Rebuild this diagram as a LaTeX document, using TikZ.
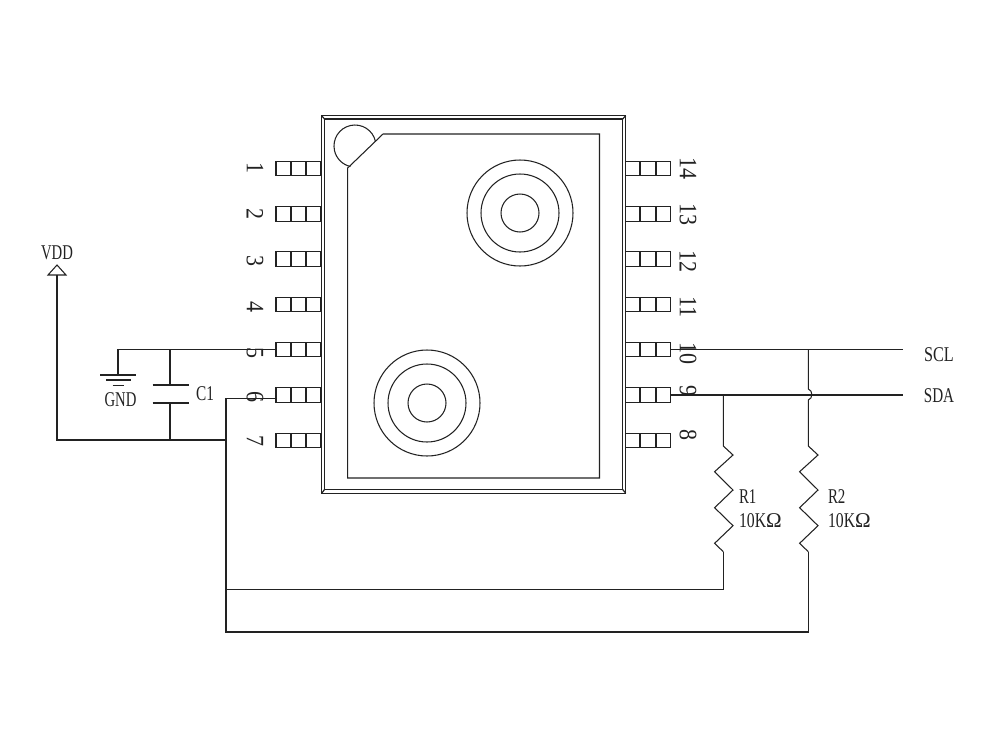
\documentclass[tikz,border=0pt]{standalone}
\usepackage{graphicx}
\usepackage{fontspec}
\setmainfont{Liberation Serif}
\newcommand{\cnd}[2]{\scalebox{#1}[1]{#2}}
\newcommand{\lblfont}{\fontsize{21}{21}\selectfont}
\newcommand{\numfont}{\fontsize{25}{25}\selectfont}
\definecolor{ink}{HTML}{222222}
\tikzset{
  wire/.style={draw=ink,line width=1.05pt,line join=miter},
  chipline/.style={draw=ink,line width=1.2pt},
  pinbox/.style={draw=ink,line width=1.05pt,rectangle,minimum width=45pt,minimum height=14.3pt,inner sep=0pt,outer sep=0pt},
  lbl/.style={inner sep=0pt,outer sep=0pt,text=ink,font=\lblfont},
  pinnum/.style={inner sep=0pt,outer sep=0pt,text=ink,font=\numfont,rotate=-90},
}
\begin{document}
\begin{tikzpicture}[x=1pt,y=-1pt]
\useasboundingbox[fill=white] (0,0) rectangle (1000,750);

% chip body
\draw[chipline] (321.7,115.7) rectangle (625.7,493.3);
\draw[chipline] (324.5,119) rectangle (622.7,489.5);
\draw[chipline] (321.7,115.7) -- (324.5,119) (625.7,115.7) -- (622.7,119)
                (321.7,493.3) -- (324.5,489.5) (625.7,493.3) -- (622.7,489.5);
\draw[wire] (383,134) -- (599.5,134) -- (599.5,478) -- (347.7,478) -- (347.7,168) -- cycle;
\draw[wire] (375.5,141.5) arc[start angle=-12.4,end angle=-257.6,radius=21];

% sensor ports
\foreach \r in {53,39,19} {
  \draw[wire] (520,213) circle[radius=\r];
  \draw[wire] (427,403) circle[radius=\r];
}

% pins
\foreach \n/\y in {1/168.6,2/214,3/259,4/304.4,5/349.7,6/395,7/440.2} {
  \node[pinbox] (p\n) at (298.5,\y) {};
  \draw[wire] (291,\y-7.15) -- (291,\y+7.15) (306,\y-7.15) -- (306,\y+7.15);
}
\foreach \n/\y in {14/168.6,13/214,12/259,11/304.4,10/349.7,9/395,8/440.2} {
  \node[pinbox] (p\n) at (648.2,\y) {};
  \draw[wire] (640,\y-7.15) -- (640,\y+7.15) (656,\y-7.15) -- (656,\y+7.15);
}

% pin numbers
\foreach \n/\y in {1/168,2/214,3/261,4/307,5/353,6/397,7/441} {
  \node[pinnum] (n\n) at (255,\y) {\cnd{.88}{\n}};
}
\foreach \n/\y in {14/168,13/214,12/261,11/307,10/353,9/391,8/435} {
  \node[pinnum] (n\n) at (688,\y) {\cnd{.88}{\n}};
}

% named junctions
\coordinate (gndtop) at (118,349.7);
\coordinate (capj) at (170,349.7);
\coordinate (capa) at (170,385);
\coordinate (capb) at (170,403);
\coordinate (capbot) at (170,440);
\coordinate (vddbase) at (57,275);
\coordinate (vddcorner) at (57,440);
\coordinate (sdaj) at (226,440);
\coordinate (p6w) at (276,398.3);
\coordinate (p6c) at (226,398.3);
\coordinate (r1c) at (226,589.5);
\coordinate (r2c) at (226,632);
\coordinate (sclend) at (903,349.7);
\coordinate (sdaend) at (903,395);
\coordinate (r1t) at (723.3,395);
\coordinate (r2t) at (808.3,349.7);

% left wiring
\draw[wire] (p5.west) -- (gndtop) -- (118,375);
\draw[wire] (100,375) -- (136,375) (106,380) -- (131,380) (112.7,385.3) -- (124,385.3);
\draw[wire] (capj) -- (capa);
\draw[wire] (152.5,385) -- (188.5,385) (152.5,403) -- (188.5,403);
\draw[wire] (capb) -- (capbot);
\draw[wire] (vddbase) -- (vddcorner) -- (sdaj);
\draw[wire] (57,265) -- (66,275) -- (48,275) -- cycle;
\draw[wire] (p6w) -- (p6c) -- (r2c) -- (808.3,632) -- (808.3,551.7);
\draw[wire] (r1c) -- (723.3,589.5) -- (723.3,551.7);

% right wiring
\draw[wire] (p10.east) -- (sclend);
\draw[wire] (p9.east) -- (sdaend);
\draw[wire] (r1t) -- (723.3,446) -- (733,455) -- (714.6,471.7) -- (733,490) -- (714.6,507.7) -- (733,525.7) -- (714.6,543.3) -- (723.3,551.7);
\draw[wire] (r2t) -- (808.3,389) .. controls (813,390.5) and (813,398.5) .. (808.3,400) -- (808.3,446) -- (818,455) -- (799.6,471.7) -- (818,490) -- (799.6,507.7) -- (818,525.7) -- (799.6,543.3) -- (808.3,551.7);

% labels
\node[lbl] (vdd) at (57,253) {\cnd{.70}{VDD}};
\node[lbl] (gnd) at (120.5,400) {\cnd{.70}{GND}};
\node[lbl] (c1) at (205,394) {\cnd{.73}{C1}};
\node[lbl] (scl) at (939,355) {\cnd{.77}{SCL}};
\node[lbl] (sda) at (939,396) {\cnd{.72}{SDA}};
\node[lbl,anchor=west] (r1) at (739,497) {\cnd{.71}{R1}};
\node[lbl,anchor=west] (r1v) at (739,521) {\cnd{.75}{10K}\cnd{1.0}{Ω}};
\node[lbl,anchor=west] (r2) at (828,497) {\cnd{.71}{R2}};
\node[lbl,anchor=west] (r2v) at (828,521) {\cnd{.75}{10K}\cnd{1.0}{Ω}};
\end{tikzpicture}
\end{document}
